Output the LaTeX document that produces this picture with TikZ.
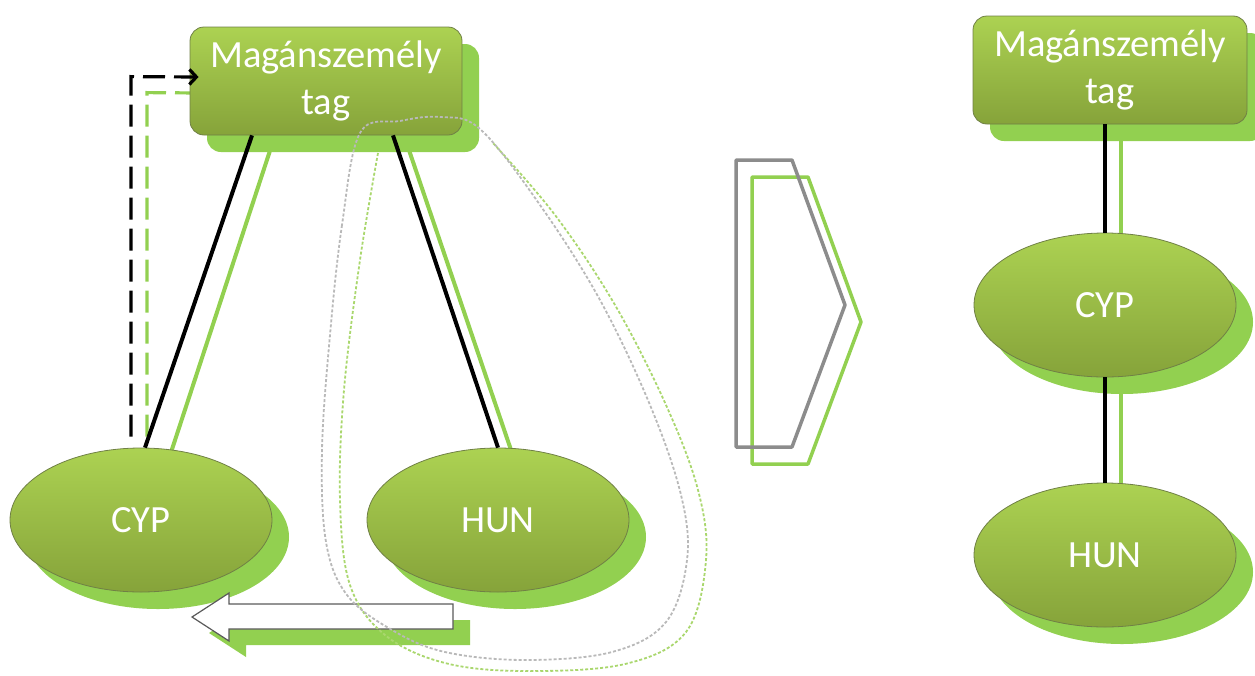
\documentclass[tikz,border=0pt]{standalone}
\usepackage{fontspec}
\setmainfont{Carlito}
\usetikzlibrary{shapes.geometric,shadows,calc,arrows.meta,backgrounds}
\definecolor{shgreen}{RGB}{146,208,80}
\definecolor{topg}{RGB}{172,210,82}
\definecolor{botg}{RGB}{134,163,58}
\definecolor{edgeg}{RGB}{112,128,70}
\definecolor{loopgrey}{RGB}{185,185,185}
\definecolor{loopgreen}{RGB}{170,215,110}
\definecolor{chevgrey}{RGB}{140,140,140}
\definecolor{arrgrey}{RGB}{90,90,90}
\tikzset{
  nodetxt/.style={text=white, font=\fontsize{38.5}{47}\selectfont, align=center},
  greenfill/.style={top color=topg, bottom color=botg, draw=edgeg, line width=0.8pt},
  gshadow/.style={drop shadow={shadow xshift=17pt, shadow yshift=-17pt, fill=shgreen, opacity=1}},
  boxnode/.style={nodetxt, greenfill, gshadow, rectangle, rounded corners=14pt, minimum width=272pt, minimum height=108pt, inner sep=0pt},
  ellnode/.style={nodetxt, greenfill, gshadow, ellipse, minimum width=262pt, minimum height=144pt, inner sep=0pt},
  conn/.style={black, line width=4pt},
  shline/.style={shgreen, line width=4pt},
  dashblack/.style={black, line width=3.2pt, dash pattern=on 22pt off 9pt},
  dashgreen/.style={shgreen, line width=3.2pt, dash pattern=on 22pt off 9pt},
  loopg/.style={loopgrey, line width=1.8pt, dash pattern=on 3pt off 2pt},
  loopgr/.style={loopgreen, line width=1.8pt, dash pattern=on 3pt off 2pt},
}
\begin{document}
\begin{tikzpicture}[x=1pt,y=-1pt]
\clip (0,0) rectangle (1255,675);

% nodes left
\node[boxnode] (boxL) at (326,81) {Magánszemély\\tag};
\node[ellnode] (cypL) at (141,520) {CYP};
\node[ellnode] (hunL) at (498,520) {HUN};
% nodes right
\node[boxnode, minimum width=274pt] (boxR) at (1110,70) {Magánszemély\\tag};
\node[ellnode] (cypR) at (1105,305) {CYP};
\node[ellnode] (hunR) at (1105,555) {HUN};

% shadow lines and green dashed line (behind nodes)
\begin{scope}[on background layer]
\draw[shline] ($(boxL.south)+(-51,0)$) -- ($(cypL.north)+(25,20)$);
\draw[shline] ($(boxL.south)+(78,0)$) -- ($(hunL.north)+(19,20)$);
\draw[shline] ($(boxR.south)+(11,0)$) -- ($(cypR.north)+(16,10)$);
\draw[shline] ($(cypR.south)+(16,-10)$) -- ($(hunR.north)+(16,10)$);
\draw[dashgreen] ($(cypL.north)+(6,-11)$) -- ++(0,-344) -- ($(boxL.west)+(10,12)$);
\end{scope}

% connectors
\draw[conn] ($(boxL.south)+(-74,0)$) -- ($(cypL.north)+(4,0)$);
\draw[conn] ($(boxL.south)+(67,0)$) -- (hunL.north);
\draw[conn] (cypR.north |- boxR.south) -- (cypR.north);
\draw[conn] (cypR.south) -- (hunR.north);

% dashed arrow CYP -> box
\coordinate (dstart) at ($(cypL.north)+(-10,-11)$);
\draw[dashblack, -{Straight Barb[length=7pt,width=15pt]}] (dstart) -- ++(0,-360) -- ($(boxL.west)+(9,-4)$);

% bottom white arrow with shadow
\fill[shgreen, shift={(17,16)}] (453,604) -- (229,604) -- (229,593) -- (192,617) -- (229,641) -- (229,629) -- (453,629) -- cycle;
\draw[fill=white, draw=arrgrey, line width=1.2pt] (453,604) -- (229,604) -- (229,593) -- (192,617) -- (229,641) -- (229,629) -- (453,629) -- cycle;

% middle chevron
\draw[shgreen, line width=3.5pt, line join=round] (752,177) -- (808,177) -- (861,322) -- (808,464) -- (752,464) -- cycle;
\draw[chevgrey, line width=3.5pt, line join=round] (736,160) -- (792,160) -- (845,305) -- (792,447) -- (736,447) -- cycle;

% dotted loops
\draw[loopgr] plot[smooth, tension=0.6] coordinates {(378,153) (360,260) (344,390) (340,500) (350,585) (385,635) (445,663) (525,671) (625,664) (686,632) (706,560) (698,490) (666,405) (615,305) (555,215) (492,142)};
\draw[loopg] plot[smooth cycle, tension=0.6] coordinates {(360,133) (342,225) (330,335) (322,450) (326,542) (347,595) (392,630) (445,652) (525,660) (612,652) (666,622) (687,560) (681,495) (650,405) (600,300) (540,205) (480,129) (440,117) (400,121)};
\end{tikzpicture}
\end{document}
